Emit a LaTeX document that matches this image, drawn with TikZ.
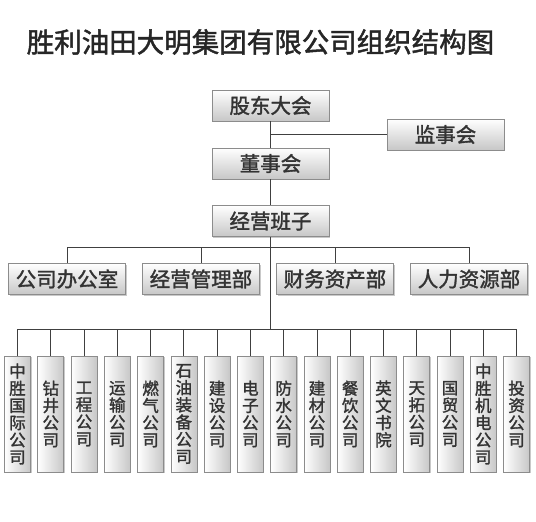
\documentclass[tikz,border=0pt]{standalone}
\usepackage{fontspec}
\setmainfont{Noto Sans CJK SC}[BoldFont={Noto Sans CJK SC}, BoldFeatures={FakeBold=1.6}]
\usetikzlibrary{shadows}
\begin{document}
\begin{tikzpicture}[x=1pt,y=-1pt,
  boxbase/.style={draw=black!45, line width=0.6pt, inner sep=0pt, text=black!80,
    drop shadow={shadow xshift=1pt,shadow yshift=-1pt,fill=black!35,opacity=0.6}},
  hbox/.style={boxbase, top color=white, bottom color=black!22,
    minimum width=117pt, minimum height=31pt, font=\fontsize{20.5}{20.5}\selectfont\bfseries},
  vbox/.style={boxbase, left color=white, right color=black!22,
    minimum width=26pt, minimum height=116pt, align=center,
    font=\fontsize{16.5}{17.2}\selectfont\bfseries},
  conn/.style={draw=black!75, line width=0.8pt}]
\useasboundingbox (0,0) rectangle (536,522);
\fill[white] (0,0) rectangle (536,522);
\node[font=\fontsize{27.5}{27.5}\selectfont\bfseries, text=black!85] (title) at (260.5,42) {胜利油田大明集团有限公司组织结构图};
\node[hbox] (gd) at (270.5,105.5) {股东大会};
\node[hbox] (js) at (445.5,134.5) {监事会};
\node[hbox] (ds) at (270.5,163.5) {董事会};
\node[hbox] (jy) at (270.5,221) {经营班子};
\node[hbox] (d1) at (67,279) {公司办公室};
\node[hbox] (d2) at (201,279) {经营管理部};
\node[hbox] (d3) at (335,279) {财务资产部};
\node[hbox] (d4) at (469,279) {人力资源部};
\coordinate (busA) at (270.5,247);
\coordinate (busB) at (270.5,329);
\foreach \t [count=\i] in {
  {中\\胜\\国\\际\\公\\司}, {钻\\井\\公\\司}, {工\\程\\公\\司}, {运\\输\\公\\司},
  {燃\\气\\公\\司}, {石\\油\\装\\备\\公\\司}, {建\\设\\公\\司}, {电\\子\\公\\司},
  {防\\水\\公\\司}, {建\\材\\公\\司}, {餐\\饮\\公\\司}, {英\\文\\书\\院},
  {天\\拓\\公\\司}, {国\\贸\\公\\司}, {中\\胜\\机\\电\\公\\司}, {投\\资\\公\\司}}
  \node[vbox] (b\i) at ({17.5+33.27*(\i-1)},414) {\t};
\draw[conn] (gd) -- (ds);
\draw[conn] (gd.south |- js.west) -- (js.west);
\draw[conn] (ds) -- (jy);
\draw[conn] (jy.south) -- (busB);
\draw[conn] (d1.north |- busA) -- (d4.north |- busA);
\foreach \k in {1,...,4} \draw[conn] (d\k.north |- busA) -- (d\k.north);
\draw[conn] (b1.north |- busB) -- (b16.north |- busB);
\foreach \k in {1,...,16} \draw[conn] (b\k.north |- busB) -- (b\k.north);
\end{tikzpicture}
\end{document}
